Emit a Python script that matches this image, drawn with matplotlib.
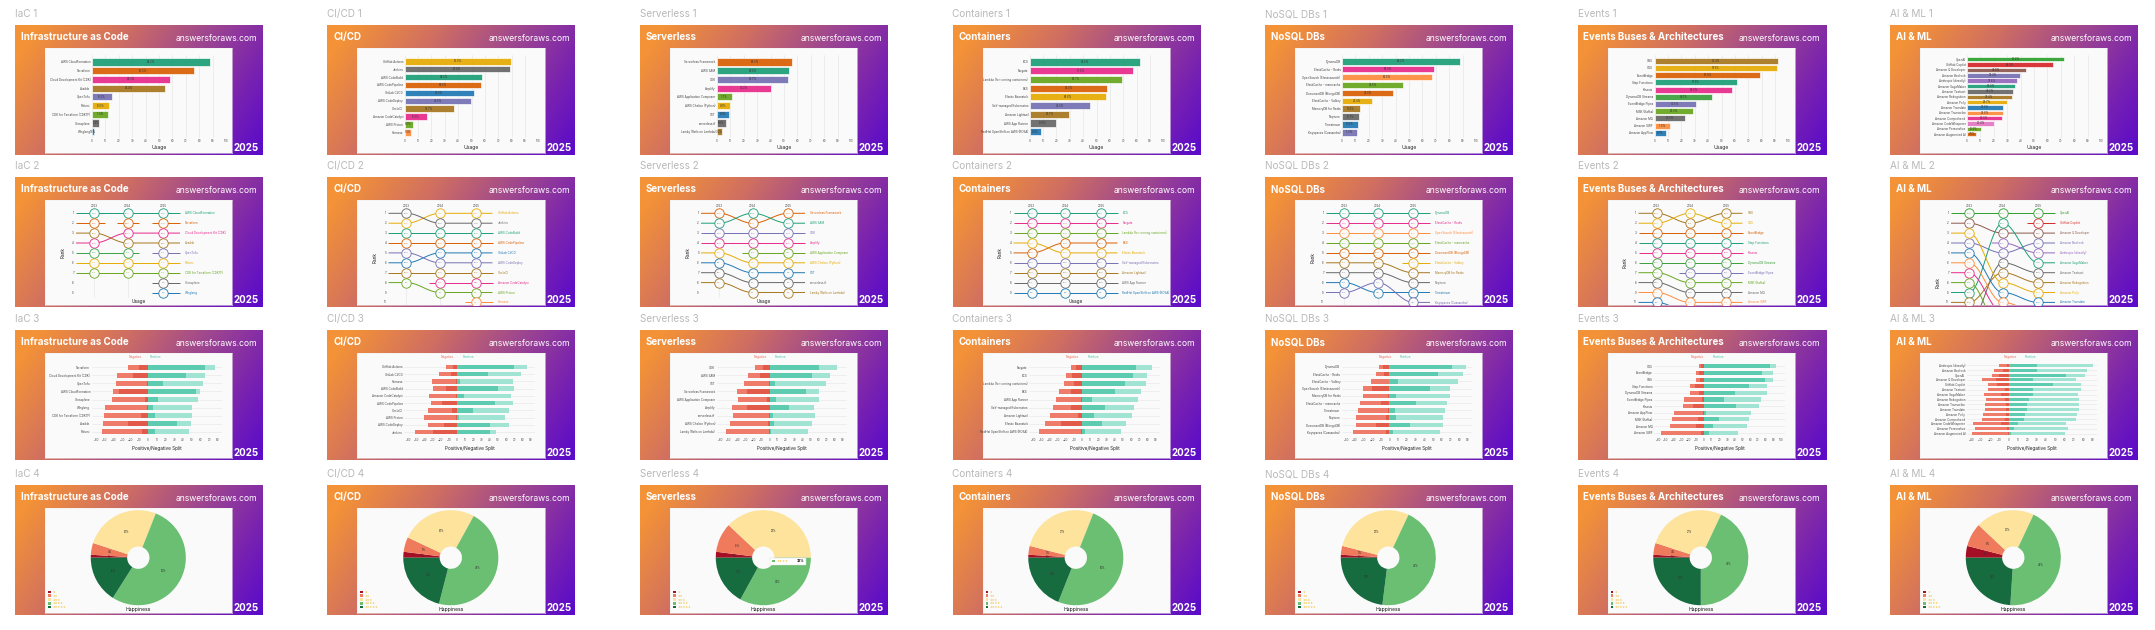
import matplotlib.pyplot as plt
import numpy as np
from matplotlib.colors import to_rgb
from matplotlib.patches import Rectangle

plt.rcParams['font.family'] = ['Inter', 'DejaVu Sans']

W, H = 2155, 630

# ---------------- data ----------------
sections = ['IaC', 'CI/CD', 'Serverless', 'Containers', 'NoSQL DBs', 'Events', 'AI & ML']
titles = ['Infrastructure as Code', 'CI/CD', 'Serverless', 'Containers', 'NoSQL DBs',
          'Events Buses & Architectures', 'AI & ML']
years = ['2023', '2024', '2025']
happiness_levels = ['Very unhappy', 'Unhappy', 'Neutral', 'Happy', 'Very happy']

# --- IaC ---
iac_tools = ['AWS CloudFormation', 'Terraform', 'Cloud Development Kit (CDK)', 'Ansible', 'OpenTofu',
             'Pulumi', 'CDK for Terraform (CDKTF)', 'Crossplane', 'Winglang']
iac_usage = [88.2, 76.3, 58.3, 54.4, 15.2, 12.6, 11.9, 5.4, 1.6]
iac_bump_tools = iac_tools + ['AWS SAM (IaC)', 'Terraform (2023)', 'Terraform (2024)']
iac_rank23 = [1, None, 4, 3, None, 6, 7, None, None, 5, 2, None]
iac_rank24 = [1, None, 3, 4, None, 6, 7, None, None, 5, None, 2]
iac_pct23 = [86, None, 52, 55, None, 14, 12, None, None, 20, 72, None]
iac_pct24 = [87, None, 57, 54, None, 13, 12, None, None, 18, None, 74]
iac_split_tools = ['Terraform', 'Cloud Development Kit (CDK)', 'OpenTofu', 'AWS CloudFormation', 'Crossplane',
                   'Winglang', 'CDK for Terraform (CDKTF)', 'Ansible', 'Pulumi']
iac_neg_strong = [11, 17.5, 1.5, 33, 4, 1.5, 8, 23.5, 7]
iac_neg_mild = [12.5, 18.5, 35.5, 7, 38, 48.5, 42.5, 28, 46]
iac_pos_strong = [65, 43, 17, 55, 11, 5, 8, 33, 8]
iac_pos_mild = [11.5, 22, 46, 5, 46, 45, 42, 16, 39]
iac_happiness = [1, 4, 26, 53, 16]

# --- CI/CD ---
cicd_tools = ['GitHub Actions', 'Jenkins', 'AWS CodeBuild', 'AWS CodePipeline', 'GitLab CI/CD',
              'AWS CodeDeploy', 'CircleCI', 'Amazon CodeCatalyst', 'AWS Proton', 'Harness']
cicd_usage = [79.5, 78.4, 58.2, 56.8, 52.0, 49.8, 36.7, 17.0, 6.0, 5.1]
cicd_bump_tools = cicd_tools
cicd_rank23 = [2, 1, 3, 4, 6, 5, 7, None, 8, None]
cicd_rank24 = [1, 2, 3, 4, 5, 6, 7, 8, 9, None]
cicd_pct23 = [72, 80, 60, 58, 45, 50, 38, None, 8, None]
cicd_pct24 = [78, 79, 59, 57, 50, 49, 37, 14, 7, None]
cicd_split_tools = ['GitHub Actions', 'GitLab CI/CD', 'Harness', 'AWS CodeBuild', 'Amazon CodeCatalyst',
                    'AWS CodePipeline', 'CircleCI', 'AWS Proton', 'AWS CodeDeploy', 'Jenkins']
cicd_neg_strong = [5, 8, 1, 14, 2, 18, 6, 1, 16, 30]
cicd_neg_mild = [9, 14, 30, 16, 32, 14, 30, 40, 20, 22]
cicd_pos_strong = [70, 38, 3, 50, 8, 46, 20, 2, 40, 40]
cicd_pos_mild = [16, 40, 66, 20, 58, 22, 44, 57, 24, 8]
cicd_happiness = [2, 5, 26, 46, 21]

# --- Serverless ---
sls_tools = ['Serverless Framework', 'AWS SAM', 'CDK', 'Amplify', 'AWS Application Composer',
             'AWS Chalice (Python)', 'SST', 'serverless.tf', 'Lamby (Rails on Lambda)']
sls_usage = [56.0, 53.8, 52.7, 40.2, 11.1, 9.8, 8.9, 6.6, 3.5]
sls_bump_tools = sls_tools
sls_rank23 = [1, 2, 3, 4, None, 5, 6, 7, 8]
sls_rank24 = [2, 1, 3, 4, 5, 6, 7, 8, 9]
sls_pct23 = [62, 52, 48, 42, None, 10, 8, 6, 3]
sls_pct24 = [57, 58, 51, 41, 10, 9, 9, 7, 3]
sls_split_tools = ['CDK', 'AWS SAM', 'SST', 'Serverless Framework', 'AWS Application Composer',
                   'Amplify', 'serverless.tf', 'AWS Chalice (Python)', 'Lamby (Rails on Lambda)']
sls_neg_strong = [8, 12, 1, 28, 3, 28, 1, 2, 1]
sls_neg_mild = [10, 14, 30, 12, 36, 18, 44, 46, 52]
sls_pos_strong = [60, 52, 6, 45, 8, 24, 4, 5, 2]
sls_pos_mild = [22, 22, 63, 15, 53, 30, 51, 47, 45]
sls_happiness = [2, 10, 38, 33, 17]

# --- Containers ---
ctr_tools = ['ECS', 'Fargate', 'Lambda (for running containers)', 'EKS', 'Elastic Beanstalk',
             'Self-managed Kubernetes', 'Amazon Lightsail', 'AWS App Runner', 'RedHat OpenShift on AWS (ROSA)']
ctr_usage = [82.6, 77.3, 68.7, 58.0, 56.8, 45.0, 29.7, 19.6, 8.8]
ctr_bump_tools = ctr_tools
ctr_rank23 = [1, 2, 3, 5, 4, 6, 7, 8, 9]
ctr_rank24 = [1, 2, 3, 4, 5, 6, 7, 8, 9]
ctr_pct23 = [80, 74, 64, 52, 58, 42, 30, 16, 8]
ctr_pct24 = [81, 76, 67, 56, 57, 44, 29, 18, 8]
ctr_split_tools = ['Fargate', 'ECS', 'Lambda (for running containers)', 'EKS', 'AWS App Runner',
                   'Self-managed Kubernetes', 'Amazon Lightsail', 'Elastic Beanstalk', 'RedHat OpenShift on AWS (ROSA)']
ctr_neg_strong = [8, 12, 10, 14, 2, 14, 5, 26, 1]
ctr_neg_mild = [6, 8, 12, 14, 30, 22, 34, 20, 52]
ctr_pos_strong = [66, 62, 52, 40, 12, 28, 14, 24, 3]
ctr_pos_mild = [20, 18, 26, 32, 56, 36, 47, 30, 44]
ctr_happiness = [1, 3, 27, 50, 19]

# --- NoSQL DBs ---
nosql_tools = ['DynamoDB', 'ElastiCache - Redis', 'OpenSearch (Elasticsearch)', 'ElastiCache - memcache',
               'DocumentDB (MongoDB)', 'ElastiCache - Valkey', 'MemoryDB for Redis', 'Neptune',
               'Timestream', 'Keyspaces (Cassandra)']
nosql_usage = [88.2, 69.0, 66.8, 45.8, 38.0, 22.4, 13.6, 12.7, 12.0, 11.0]
nosql_bump_tools = nosql_tools
nosql_rank23 = [1, 2, 3, 4, 5, None, 6, 7, 8, 9]
nosql_rank24 = [1, 2, 3, 4, 5, None, 6, 7, 9, 8]
nosql_pct23 = [86, 66, 64, 48, 36, None, 12, 12, 10, 10]
nosql_pct24 = [87, 68, 65, 46, 37, None, 13, 12, 11, 12]
nosql_split_tools = ['DynamoDB', 'ElastiCache - Redis', 'ElastiCache - Valkey', 'OpenSearch (Elasticsearch)',
                     'MemoryDB for Redis', 'ElastiCache - memcache', 'Timestream', 'Neptune',
                     'DocumentDB (MongoDB)', 'Keyspaces (Cassandra)']
nosql_neg_strong = [8, 6, 1, 20, 2, 10, 2, 4, 16, 4]
nosql_neg_mild = [4, 10, 20, 10, 28, 24, 34, 34, 22, 38]
nosql_pos_strong = [72, 56, 10, 46, 8, 30, 6, 8, 24, 4]
nosql_pos_mild = [16, 28, 69, 24, 62, 36, 58, 54, 38, 54]
nosql_happiness = [1, 3, 28, 45, 23]

# --- Events ---
evt_tools = ['SNS', 'SQS', 'EventBridge', 'Step Functions', 'Kinesis', 'DynamoDB Streams',
             'EventBridge Pipes', 'MSK (Kafka)', 'Amazon MQ', 'Amazon SWF', 'Amazon AppFlow']
evt_usage = [92.3, 91.3, 79.0, 61.3, 58.0, 43.1, 30.6, 29.0, 23.0, 11.8, 8.7]
evt_bump_tools = evt_tools
evt_rank23 = [1, 2, 3, 4, 5, 6, None, 7, 8, 9, 10]
evt_rank24 = [2, 1, 3, 4, 5, 6, 7, 8, 9, 10, 11]
evt_pct23 = [90, 89, 72, 58, 56, 42, None, 28, 24, 14, 8]
evt_pct24 = [91, 92, 76, 60, 57, 43, 26, 29, 23, 12, 9]
evt_split_tools = ['SQS', 'EventBridge', 'SNS', 'Step Functions', 'DynamoDB Streams', 'EventBridge Pipes',
                   'Kinesis', 'Amazon AppFlow', 'MSK (Kafka)', 'Amazon MQ', 'Amazon SWF']
evt_neg_strong = [4, 6, 5, 12, 6, 2, 14, 1, 8, 10, 4]
evt_neg_mild = [2, 4, 5, 6, 12, 24, 14, 38, 34, 34, 52]
evt_pos_strong = [86, 76, 80, 58, 40, 26, 42, 3, 20, 12, 6]
evt_pos_mild = [8, 14, 10, 24, 42, 48, 30, 58, 38, 44, 38]
evt_happiness = [1, 4, 27, 43, 25]

# --- AI & ML ---
ai_tools = ['OpenAI', 'GitHub Copilot', 'Amazon Q Developer', 'Amazon Bedrock', 'Anthropic (directly)',
            'Amazon SageMaker', 'Amazon Textract', 'Amazon Rekognition', 'Amazon Polly', 'Amazon Translate',
            'Amazon Transcribe', 'Amazon Comprehend', 'Amazon CodeWhisperer', 'Amazon Personalize',
            'Amazon Augmented AI']
ai_usage = [72.4, 64.0, 43.8, 39.4, 37.6, 36.0, 34.2, 33.4, 29.7, 27.0, 26.8, 26.0, 20.4, 10.5, 7.0]
ai_bump_tools = ai_tools
ai_rank23 = [1, None, 2, 4, None, 9, 12, 10, 3, 5, 6, 7, 11, 8, 13]
ai_rank24 = [1, None, 3, 5, 4, 2, 6, 7, 8, 9, 10, 11, 12, 13, 14]
ai_pct23 = [60, None, 40, 30, None, 22, 14, 20, 33, 29, 26, 24, 16, 21, 8]
ai_pct24 = [70, None, 46, 38, 40, 50, 35, 34, 30, 28, 27, 26, 22, 11, 7]
ai_split_tools = ['Anthropic (directly)', 'Amazon Bedrock', 'OpenAI', 'Amazon Q Developer', 'GitHub Copilot',
                  'Amazon Textract', 'Amazon SageMaker', 'Amazon Rekognition', 'Amazon Transcribe',
                  'Amazon Translate', 'Amazon Polly', 'Amazon Comprehend', 'Amazon CodeWhisperer',
                  'Amazon Personalize', 'Amazon Augmented AI']
ai_neg_strong = [2, 6, 10, 14, 12, 4, 8, 4, 3, 3, 3, 4, 8, 2, 1]
ai_neg_mild = [8, 10, 8, 14, 10, 18, 18, 20, 22, 22, 24, 24, 30, 34, 38]
ai_pos_strong = [30, 30, 62, 26, 48, 26, 26, 22, 20, 20, 18, 16, 10, 6, 3]
ai_pos_mild = [60, 54, 20, 46, 30, 52, 48, 54, 55, 55, 55, 56, 52, 58, 58]
ai_happiness = [4, 8, 20, 44, 24]

# tool colours
tool_colors = {
    'AWS CloudFormation': '#1b9e77', 'Terraform': '#d95f02', 'Cloud Development Kit (CDK)': '#e7298a',
    'Ansible': '#a6761d', 'OpenTofu': '#7570b3', 'Pulumi': '#e6ab02', 'CDK for Terraform (CDKTF)': '#66a61e',
    'Crossplane': '#666666', 'Winglang': '#1f78b4', 'AWS SAM (IaC)': '#3aa346',
    'Terraform (2023)': '#d95f02', 'Terraform (2024)': '#d95f02',
    'GitHub Actions': '#e6ab02', 'Jenkins': '#666666', 'AWS CodeBuild': '#1b9e77', 'AWS CodePipeline': '#d95f02',
    'GitLab CI/CD': '#1f78b4', 'AWS CodeDeploy': '#7570b3', 'CircleCI': '#a6761d',
    'Amazon CodeCatalyst': '#e7298a', 'AWS Proton': '#66a61e', 'Harness': '#fd8d3c',
    'Serverless Framework': '#d95f02', 'AWS SAM': '#1b9e77', 'CDK': '#7570b3', 'Amplify': '#e7298a',
    'AWS Application Composer': '#66a61e', 'AWS Chalice (Python)': '#e6ab02', 'SST': '#1f78b4',
    'serverless.tf': '#666666', 'Lamby (Rails on Lambda)': '#a6761d',
    'ECS': '#1b9e77', 'Fargate': '#e7298a', 'Lambda (for running containers)': '#66a61e', 'EKS': '#d95f02',
    'Elastic Beanstalk': '#e6ab02', 'Self-managed Kubernetes': '#7570b3', 'Amazon Lightsail': '#a6761d',
    'AWS App Runner': '#666666', 'RedHat OpenShift on AWS (ROSA)': '#1f78b4',
    'DynamoDB': '#1b9e77', 'ElastiCache - Redis': '#e7298a', 'OpenSearch (Elasticsearch)': '#fd8d3c',
    'ElastiCache - memcache': '#66a61e', 'DocumentDB (MongoDB)': '#d95f02', 'ElastiCache - Valkey': '#e6ab02',
    'MemoryDB for Redis': '#a6761d', 'Neptune': '#666666', 'Timestream': '#1f78b4',
    'Keyspaces (Cassandra)': '#7570b3',
    'SNS': '#a6761d', 'SQS': '#e6ab02', 'EventBridge': '#d95f02', 'Step Functions': '#1b9e77',
    'Kinesis': '#e7298a', 'DynamoDB Streams': '#3b9f3b', 'EventBridge Pipes': '#7570b3', 'MSK (Kafka)': '#66a61e',
    'Amazon MQ': '#666666', 'Amazon SWF': '#fd8d3c', 'Amazon AppFlow': '#1f78b4',
    'OpenAI': '#2ca02c', 'GitHub Copilot': '#d62728', 'Amazon Q Developer': '#8c564b',
    'Amazon Bedrock': '#7570b3', 'Anthropic (directly)': '#9467bd', 'Amazon SageMaker': '#1b9e77',
    'Amazon Textract': '#666666', 'Amazon Rekognition': '#a6761d', 'Amazon Polly': '#e6ab02',
    'Amazon Translate': '#1f78b4', 'Amazon Transcribe': '#fd8d3c', 'Amazon Comprehend': '#e7298a',
    'Amazon CodeWhisperer': '#e377c2', 'Amazon Personalize': '#66a61e', 'Amazon Augmented AI': '#d95f02',
}

usage_data = [(iac_tools, iac_usage), (cicd_tools, cicd_usage), (sls_tools, sls_usage), (ctr_tools, ctr_usage),
              (nosql_tools, nosql_usage), (evt_tools, evt_usage), (ai_tools, ai_usage)]
bump_data = [
    (iac_bump_tools, iac_rank23, iac_rank24, iac_pct23, iac_pct24, iac_usage),
    (cicd_bump_tools, cicd_rank23, cicd_rank24, cicd_pct23, cicd_pct24, cicd_usage),
    (sls_bump_tools, sls_rank23, sls_rank24, sls_pct23, sls_pct24, sls_usage),
    (ctr_bump_tools, ctr_rank23, ctr_rank24, ctr_pct23, ctr_pct24, ctr_usage),
    (nosql_bump_tools, nosql_rank23, nosql_rank24, nosql_pct23, nosql_pct24, nosql_usage),
    (evt_bump_tools, evt_rank23, evt_rank24, evt_pct23, evt_pct24, evt_usage),
    (ai_bump_tools, ai_rank23, ai_rank24, ai_pct23, ai_pct24, ai_usage),
]
split_data = [
    (iac_split_tools, iac_neg_strong, iac_neg_mild, iac_pos_strong, iac_pos_mild),
    (cicd_split_tools, cicd_neg_strong, cicd_neg_mild, cicd_pos_strong, cicd_pos_mild),
    (sls_split_tools, sls_neg_strong, sls_neg_mild, sls_pos_strong, sls_pos_mild),
    (ctr_split_tools, ctr_neg_strong, ctr_neg_mild, ctr_pos_strong, ctr_pos_mild),
    (nosql_split_tools, nosql_neg_strong, nosql_neg_mild, nosql_pos_strong, nosql_pos_mild),
    (evt_split_tools, evt_neg_strong, evt_neg_mild, evt_pos_strong, evt_pos_mild),
    (ai_split_tools, ai_neg_strong, ai_neg_mild, ai_pos_strong, ai_pos_mild),
]
happiness_data = [iac_happiness, cicd_happiness, sls_happiness, ctr_happiness,
                  nosql_happiness, evt_happiness, ai_happiness]

# ---------------- layout ----------------
CARD_W, CARD_H = 248, 130
card_x = [15 + 312.5 * c for c in range(7)]
card_y = [25, 177, 330, 485]
BOX = (30, 23, 187, 105)          # inner white panel inside a card (x, y, w, h)
INNER_BG = '#fafafa'
TXT = '#444444'
pie_colors = ['#a50f26', '#f07a5c', '#fde39b', '#6abf72', '#166b3f']

fig = plt.figure(figsize=(W / 100, H / 100), dpi=100)
fig.patch.set_facecolor('white')


def px_axes(x, y, w, h, **kw):
    return fig.add_axes([x / W, 1 - (y + h) / H, w / W, h / H], **kw)


# gradient background for the cards
gu = np.linspace(0, 1, CARD_W)[None, :]
gv = np.linspace(0, 1, CARD_H)[:, None]
gt = np.clip(0.82 * gu + 0.28 * gv - 0.08, 0, 1)
stop_pos = [0.0, 0.3, 0.55, 0.8, 1.0]
stop_col = [to_rgb(c) for c in ['#f39237', '#cf6e62', '#a24a8c', '#7b24ae', '#5c0cc8']]
grad = np.dstack([np.interp(gt, stop_pos, [c[i] for c in stop_col]) for i in range(3)])


def clean(ax):
    for s in ax.spines.values():
        s.set_visible(False)
    ax.tick_params(length=0, pad=1)


def draw_usage(x0, y0, tools, usage):
    bx, by = x0 + BOX[0], y0 + BOX[1]
    ax = px_axes(bx + 47, by + 7, 134, 83)
    ax.set_facecolor('none')
    y = np.arange(len(tools))
    cols = [tool_colors[t] for t in tools]
    ax.barh(y, usage, height=0.82, color=cols, alpha=0.92, edgecolor='#ffffff', linewidth=0.5, zorder=3)
    for yi, v in zip(y, usage):
        ax.text(v / 2, yi, f'{v:.1f}%', ha='center', va='center', fontsize=1.9, color='#333333', zorder=4)
    ax.set_yticks(y)
    ax.set_yticklabels(tools, fontsize=2.1, color=TXT)
    ax.set_ylim(len(tools) - 0.28, -0.8)
    ax.set_xlim(0, 100)
    ax.set_xticks(range(0, 101, 10))
    ax.tick_params(axis='x', labelsize=2.1, labelcolor=TXT)
    ax.set_xlabel('Usage', fontsize=3.6, labelpad=1.5, color='#222222')
    ax.grid(axis='x', color='#e2e2e2', lw=0.4, zorder=0)
    clean(ax)


def smooth(xa, ya, xb, yb, n=30):
    t = np.linspace(0, 1, n)
    return xa + (xb - xa) * t, ya + (yb - ya) * (1 - np.cos(np.pi * t)) / 2


def draw_bump(x0, y0, tools, r23, r24, p23, p24, usage):
    bx, by = x0 + BOX[0], y0 + BOX[1]
    ax = px_axes(bx, by, BOX[2], BOX[3])
    ax.set_facecolor('none')
    ax.axis('off')
    step = 9.9
    top = 1 - 13.3 / step
    ax.set_xlim(0, BOX[2])
    ax.set_ylim(top + BOX[3] / step, top)
    xs = [49, 82.7, 118.3]
    n = len(usage)
    for xv in xs:
        ax.plot([xv, xv], [0.5, n + 0.5], color='#e4e4e4', lw=0.4, zorder=0)
    for i, yl in enumerate(years):
        ax.text(xs[i], 0.25, yl, ha='center', va='center', fontsize=2.1, color=TXT)
    for r in range(1, n + 1):
        ax.text(29, r, str(r), ha='right', va='center', fontsize=2.1, color=TXT, clip_on=True)
    ax.text(18, (n + 1) / 2, 'Rank', rotation=90, ha='center', va='center', fontsize=3.4, color='#222222',
            clip_on=True)
    ax.text(93.5, n + 0.9, 'Usage', ha='center', va='center', fontsize=3.4, color='#222222', clip_on=True)
    for k, tool in enumerate(tools):
        col = tool_colors[tool]
        pts = []
        ranks = [r23[k], r24[k], k + 1 if k < n else None]
        pcts = [p23[k], p24[k], usage[k] if k < n else None]
        for i in range(3):
            if ranks[i] is not None:
                pts.append((i, ranks[i], pcts[i]))
        segs_x, segs_y = [], []
        first, last = pts[0], pts[-1]
        left = 31 if first[0] == 0 else xs[first[0]] - 11
        right = 135 if last[0] == 2 else xs[last[0]] + 11
        segs_x += [left, xs[first[0]]]
        segs_y += [first[1], first[1]]
        for a, b in zip(pts[:-1], pts[1:]):
            sx, sy = smooth(xs[a[0]], a[1], xs[b[0]], b[1])
            segs_x += list(sx)
            segs_y += list(sy)
        segs_x += [right]
        segs_y += [last[1]]
        ax.plot(segs_x, segs_y, color=col, lw=0.7, zorder=2, clip_on=True, solid_capstyle='butt')
        for i, r, p in pts:
            ax.scatter([xs[i]], [r], s=46, facecolor=INNER_BG, edgecolor=col, linewidth=0.6, zorder=3,
                       clip_on=True)
            ax.text(xs[i], r, f'{p:.0f}%', ha='center', va='center', fontsize=1.6, color=col, zorder=4,
                    clip_on=True)
        if last[0] == 2:
            ax.text(140, last[1], tool, ha='left', va='center', fontsize=2.1, color=col, clip_on=True)


def draw_split(x0, y0, tools, neg_s, neg_m, pos_s, pos_m):
    bx, by = x0 + BOX[0], y0 + BOX[1]
    ax = px_axes(bx + 46.6, by + 9, 130.6, 75)
    ax.set_facecolor('none')
    y = np.arange(len(tools))
    neg_s, neg_m = np.array(neg_s), np.array(neg_m)
    pos_s, pos_m = np.array(pos_s), np.array(pos_m)
    h = 0.62
    ax.barh(y, -neg_s, height=h, color='#e25a4a', zorder=3)
    ax.barh(y, -neg_m, left=-neg_s, height=h, color='#ef7b6b', zorder=3)
    ax.barh(y, pos_s, height=h, color='#5ccbaf', zorder=3)
    ax.barh(y, pos_m, left=pos_s, height=h, color='#a2e4d3', zorder=3)
    lo = -np.ceil((neg_s + neg_m).max() / 10) * 10
    hi = np.ceil((pos_s + pos_m).max() / 10) * 10
    ax.set_xlim(lo - 5, hi + 5)
    ax.set_xticks(np.arange(lo, hi + 1, 10))
    ax.tick_params(axis='x', labelsize=2.1, labelcolor=TXT)
    ax.set_yticks(y)
    ax.set_yticklabels(tools, fontsize=2.1, color=TXT)
    ax.set_ylim(len(tools) - 1 + 0.66, -0.66)
    for yi in y:
        ax.axhline(yi, color='#e6e6e6', lw=0.4, zorder=0)
    ax.set_xlabel('Positive/Negative Split', fontsize=3.4, labelpad=2.5, color='#222222')
    clean(ax)
    fig.text((bx + 90) / W, 1 - (by + 4) / H, 'Negative', color='#ef6b5b', fontsize=2.3, ha='center', va='center')
    fig.text((bx + 111) / W, 1 - (by + 4) / H, 'Positive', color='#4cc3a5', fontsize=2.3, ha='center', va='center')


def draw_pie(x0, y0, vals, tooltip=None):
    bx, by = x0 + BOX[0], y0 + BOX[1]
    ax = px_axes(bx + 45.3, by + 1.7, 96, 96)
    ax.pie(vals, colors=pie_colors, startangle=180, counterclock=False, radius=1,
           wedgeprops=dict(width=0.765, linewidth=0), autopct='%d%%', pctdistance=0.6,
           textprops=dict(fontsize=1.8, color='#333333'))
    ax.set_xlim(-1.01, 1.01)
    ax.set_ylim(-1.01, 1.01)
    ax.set_aspect('equal')
    over = px_axes(bx, by, BOX[2], BOX[3])
    over.set_facecolor('none')
    over.set_xlim(0, BOX[2])
    over.set_ylim(BOX[3], 0)
    over.axis('off')
    over.text(93.3, 101.7, 'Happiness', ha='center', va='center', fontsize=3.6, color='#111111')
    for k, c in enumerate(pie_colors):
        yy = 84 + k * 3.75
        over.add_patch(Rectangle((3, yy - 1.4), 2.8, 2.8, color=c, lw=0))
        over.text(7.5, yy, '★' * (k + 1), ha='left', va='center', fontsize=2.2, color='#f2c447',
                  family='DejaVu Sans')
    if tooltip is not None:
        lvl, pct = tooltip
        over.add_patch(Rectangle((100, 49.5), 35.7, 7, facecolor='white', edgecolor='#dddddd', lw=0.3, zorder=5))
        over.add_patch(Rectangle((102, 51.6), 2.8, 2.8, color=pie_colors[lvl], lw=0, zorder=6))
        over.text(107, 53, '★' * (lvl + 1), ha='left', va='center', fontsize=2.4, color='#f2c447',
                  family='DejaVu Sans', zorder=6)
        over.text(127, 53, f'{pct}%', ha='left', va='center', fontsize=2.4, color='#111111',
                  weight='bold', zorder=6)


for c in range(7):
    for r in range(4):
        x0, y0 = card_x[c], card_y[r]
        fig.text(x0 / W, 1 - (y0 - 11) / H, f'{sections[c]} {r + 1}', fontsize=7.2, color='#b9b9b9',
                 ha='left', va='center')
        cax = px_axes(x0, y0, CARD_W, CARD_H)
        cax.imshow(grad, extent=(0, CARD_W, CARD_H, 0), aspect='auto', interpolation='bilinear')
        cax.set_xlim(0, CARD_W)
        cax.set_ylim(CARD_H, 0)
        cax.axis('off')
        cax.text(5.7, 12, titles[c], color='white', fontsize=7, weight='bold', ha='left', va='center')
        cax.text(CARD_W - 5.7, 13.7, 'answersforaws.com', color='white', fontsize=6.2, ha='right', va='center')
        cax.text(CARD_W - 4, 123.3, '2025', color='white', fontsize=7, weight='bold', ha='right', va='center')

        box = px_axes(x0 + BOX[0], y0 + BOX[1], BOX[2], BOX[3])
        box.set_facecolor(INNER_BG)
        box.set_xticks([])
        box.set_yticks([])
        for s in box.spines.values():
            s.set_color('#eeeeee')
            s.set_linewidth(0.4)

        if r == 0:
            draw_usage(x0, y0, *usage_data[c])
        elif r == 1:
            draw_bump(x0, y0, *bump_data[c])
        elif r == 2:
            draw_split(x0, y0, *split_data[c])
        else:
            draw_pie(x0, y0, happiness_data[c], tooltip=(3, 33) if c == 2 else None)

fig.savefig('out.png', dpi=100, facecolor='white')
